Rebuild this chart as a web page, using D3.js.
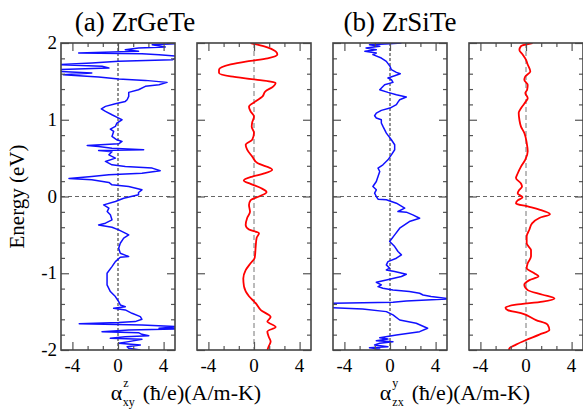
<!DOCTYPE html>
<html>
<head>
<meta charset="utf-8">
<script src="https://cdn.jsdelivr.net/npm/d3@7"></script>
<style>
body { margin: 0; background: #fff; }
svg { display: block; }
</style>
</head>
<body>
<svg width="583" height="410" font-family="Liberation Serif, DejaVu Serif, serif"></svg>
<script>
// Energy (eV), alpha pairs

var geteBlue = [[2.0,5.3],[1.991,5.0],[1.978,3.0],[1.948,4.15],[1.935,1.8],[1.913,0.64],[1.891,1.8],[1.87,-3.45],[1.861,2.1],[1.848,3.6],[1.826,5.3],[1.783,4.8],[1.761,0.06],[1.739,-2.3],[1.717,-5.3],[1.696,-1.4],[1.674,-0.8],[1.652,-5.3],[1.630,-5.3],[1.609,-2.3],[1.587,-4.8],[1.557,-1.7],[1.530,0.06],[1.513,2.4],[1.487,4.3],[1.457,3.6],[1.435,2.4],[1.391,1.8],[1.357,0.94],[1.304,0.94],[1.261,0.8],[1.239,0.64],[1.209,-0.23],[1.174,-1.1],[1.143,-1.46],[1.109,-1.1],[1.065,-0.53],[1.022,0.06],[1.0,0.35],[0.957,-0.1],[0.913,-0.23],[0.878,-0.67],[0.848,-0.38],[0.783,-0.53],[0.739,-0.1],[0.717,0.35],[0.687,0.06],[0.665,-2.7],[0.652,-1.7],[0.630,-0.53],[0.609,2.25],[0.6,-1.7],[0.583,-0.53],[0.543,-0.8],[0.5,-0.23],[0.457,-1.1],[0.413,-0.53],[0.391,0.64],[0.370,3.0],[0.335,3.7],[0.304,2.1],[0.283,-0.8],[0.261,-2.3],[0.235,-4.3],[0.217,-2.3],[0.183,-0.8],[0.152,-0.53],[0.130,0.94],[0.087,2.1],[0.052,1.8],[0.022,1.8],[-0.022,0.5],[-0.065,-0.23],[-0.109,-1.26],[-0.152,-0.8],[-0.196,-0.95],[-0.239,-0.67],[-0.304,-0.53],[-0.348,-1.1],[-0.37,-1.7],[-0.4,-0.53],[-0.435,0.06],[-0.478,0.64],[-0.5,0.94],[-0.543,0.5],[-0.609,0.2],[-0.674,0.06],[-0.739,0.2],[-0.783,0.94],[-0.791,0.2],[-0.848,-0.23],[-0.913,-0.53],[-1.0,-0.96],[-1.087,-0.96],[-1.152,-0.96],[-1.239,-0.67],[-1.304,-0.23],[-1.37,0.06],[-1.413,0.2],[-1.435,0.64],[-1.457,-0.38],[-1.478,0.64],[-1.522,1.23],[-1.565,1.96],[-1.6,2.1],[-1.63,1.5],[-1.643,0.06],[-1.657,-3.4],[-1.674,2.1],[-1.696,5.3],[-1.717,3.6],[-1.726,5.3],[-1.739,0.94],[-1.761,-1.4],[-1.774,1.8],[-1.796,2.1],[-1.813,2.7],[-1.826,0.64],[-1.848,-0.67],[-1.861,2.1],[-1.891,0.94],[-1.913,0.06],[-1.935,1.96],[-1.957,0.8],[-1.978,0.94],[-2.0,1.96]]

var geteRed = [[2.0,-0.3],[1.957,0.9],[1.89,1.9],[1.85,2.05],[1.80,1.2],[1.76,-0.6],[1.72,-2.05],[1.65,-3.07],[1.61,-3.07],[1.565,-2.05],[1.52,0.3],[1.48,1.9],[1.435,1.7],[1.37,1.0],[1.30,0.73],[1.24,0.15],[1.17,-0.44],[1.11,-0.3],[1.04,0],[0.97,-0.15],[0.91,-0.2],[0.83,0],[0.74,-0.15],[0.674,-0.73],[0.61,-0.6],[0.52,-0.15],[0.435,0.3],[0.35,1.6],[0.30,0.9],[0.26,-0.15],[0.21,-0.9],[0.165,-0.3],[0.11,0.6],[0.057,1.1],[0.0,0.44],[-0.05,-0.3],[-0.11,-0.44],[-0.2,-0.35],[-0.28,-0.6],[-0.37,-0.73],[-0.43,-0.44],[-0.48,0.44],[-0.54,0.23],[-0.65,0.15],[-0.80,0.06],[-0.87,-0.3],[-0.96,-0.73],[-1.07,-0.94],[-1.17,-0.88],[-1.30,-0.44],[-1.39,0.15],[-1.48,0.6],[-1.57,1.46],[-1.63,1.17],[-1.70,1.9],[-1.76,1.17],[-1.83,1.3],[-1.89,1.46],[-1.95,1.3],[-2.0,1.17]]

var sidBlue = [[2.0,1.0],[1.991,0],[1.978,-1.8],[1.957,-0.9],[1.935,-2.1],[1.913,-1.2],[1.891,-2.2],[1.870,-1.2],[1.848,-1.5],[1.804,-0.76],[1.761,-0.32],[1.696,0],[1.652,0.12],[1.617,0.56],[1.6,0.9],[1.574,0.41],[1.543,-0.18],[1.522,0.12],[1.487,0.26],[1.457,-0.47],[1.391,-0.9],[1.357,-0.18],[1.326,0.56],[1.296,1.43],[1.261,0.85],[1.230,0.7],[1.196,0.56],[1.152,0],[1.122,-0.76],[1.087,-1.2],[1.052,-1.35],[1.022,-1.2],[1.0,-0.76],[0.957,-0.76],[0.913,-0.62],[0.826,-0.32],[0.739,0.12],[0.674,0.41],[0.609,0.41],[0.543,0.12],[0.478,-0.18],[0.413,-0.62],[0.370,-1.05],[0.326,-0.9],[0.261,-1.05],[0.196,-1.2],[0.130,-1.5],[0.087,-1.2],[0.043,-1.35],[0.0,-1.2],[-0.035,-1.05],[-0.043,-0.32],[-0.087,0.56],[-0.152,1.29],[-0.196,0.7],[-0.204,1.43],[-0.239,2.0],[-0.283,2.6],[-0.326,1.7],[-0.413,0.85],[-0.5,0.41],[-0.587,-0.03],[-0.652,0.41],[-0.717,0.7],[-0.761,1.0],[-0.804,0.56],[-0.848,-0.18],[-0.891,-0.32],[-0.935,-0.03],[-0.957,-0.32],[-0.978,0.41],[-1.013,1.43],[-1.043,1.0],[-1.087,-0.32],[-1.117,-1.2],[-1.152,-0.76],[-1.174,-1.05],[-1.196,-0.62],[-1.217,0.26],[-1.239,1.7],[-1.261,2.6],[-1.283,2.9],[-1.304,3.6],[-1.335,5.3],[-1.361,1.43],[-1.378,0.26],[-1.391,-5.3],[-1.448,-5.3],[-1.465,-2.4],[-1.5,-0.32],[-1.543,0.26],[-1.609,0.85],[-1.652,2.3],[-1.717,3.3],[-1.761,2.6],[-1.804,0.56],[-1.839,-0.9],[-1.857,-0.18],[-1.878,-1.2],[-1.891,0.26],[-1.913,-0.9],[-1.935,-1.35],[-1.957,-0.18],[-1.970,-1.8],[-1.987,-0.9],[-2.0,-1.35]]

var sidRed = [[2.0,0.58],[1.96,-0.44],[1.91,-0.58],[1.85,-0.3],[1.78,0],[1.72,0.15],[1.63,0.38],[1.565,-0.06],[1.52,-0.15],[1.456,0.15],[1.39,0.1],[1.35,-0.06],[1.28,0.15],[1.24,0],[1.15,-0.44],[1.09,-0.64],[1.0,-0.58],[0.91,-0.44],[0.83,-0.15],[0.70,0.06],[0.59,0.15],[0.48,-0.06],[0.39,-0.44],[0.30,-0.73],[0.24,-0.88],[0.17,-0.44],[0.13,-0.35],[0.087,-0.58],[0.04,-0.73],[-0.01,-0.3],[-0.05,-0.73],[-0.09,-0.88],[-0.13,0.15],[-0.17,1.17],[-0.23,2.1],[-0.28,1.17],[-0.35,0.53],[-0.43,0.3],[-0.52,0.06],[-0.61,0.06],[-0.70,0.44],[-0.78,0.44],[-0.87,0.15],[-0.93,0.06],[-1.0,0.73],[-1.04,1.1],[-1.09,0.3],[-1.15,-0.15],[-1.22,0.15],[-1.28,1.46],[-1.33,2.5],[-1.37,1.46],[-1.41,-0.88],[-1.45,-1.8],[-1.48,-1.6],[-1.52,-0.44],[-1.61,0.88],[-1.67,1.9],[-1.74,2.05],[-1.80,1.17],[-1.87,0],[-1.93,-0.88],[-1.98,-1.46],[-2.0,-1.5]]

var xMajor = [-4, 0, 4]
var xMinor = [-2.667, -1.333, 1.333, 2.667]
var yMajor = [-2, -1, 0, 1, 2]
var yMinor = d3.range(-1.8, 2, 0.2).map(function(v) { return Math.round(v * 10) / 10 }).filter(function(v) { return v % 1 != 0 })

var titles = ['(a) ZrGeTe', '(b) ZrSiTe']
var xSup = ['z', 'y']
var xSub = ['xy', 'zx']

var svg = d3.select('svg')
var plotTop = 43, plotBottom = 350, pw = 114
var lefts = [61, 197, 333, 469]
var panels = [
	{ data: geteBlue, color: '#1010ff', width: 1.5, curve: d3.curveLinear, zero: '#222' },
	{ data: geteRed, color: '#ff0000', width: 1.8, curve: d3.curveMonotoneY, zero: '#777' },
	{ data: sidBlue, color: '#1010ff', width: 1.5, curve: d3.curveLinear, zero: '#222' },
	{ data: sidRed, color: '#ff0000', width: 1.8, curve: d3.curveMonotoneY, zero: '#777' }
]

var y = d3.scaleLinear().domain([-2, 2]).range([plotBottom, plotTop])
var frameColor = '#444'

panels.forEach(function(p, i) {
	var x = d3.scaleLinear().domain([-5, 5]).range([lefts[i], lefts[i] + pw])
	var g = svg.append('g')

	g.append('clipPath').attr('id', 'clip' + i)
		.append('rect')
		.attr('x', lefts[i]).attr('y', plotTop)
		.attr('width', pw).attr('height', plotBottom - plotTop)

	// zero lines
	g.append('line')
		.attr('x1', lefts[i]).attr('x2', lefts[i] + pw)
		.attr('y1', y(0)).attr('y2', y(0))
		.attr('stroke', '#666').attr('stroke-width', 1.2)
		.attr('stroke-dasharray', '4,3')
	g.append('line')
		.attr('x1', x(0)).attr('x2', x(0))
		.attr('y1', plotTop).attr('y2', plotBottom)
		.attr('stroke', p.zero).attr('stroke-width', 1)
		.attr('stroke-dasharray', i % 2 ? '5,3' : '3,2')

	var line = d3.line()
		.x(function(d) { return x(d[1]) })
		.y(function(d) { return y(d[0]) })
		.curve(p.curve)

	g.append('path')
		.datum(p.data)
		.attr('clip-path', 'url(#clip' + i + ')')
		.attr('d', line)
		.attr('fill', 'none')
		.attr('stroke', p.color)
		.attr('stroke-width', p.width)
		.attr('stroke-linejoin', 'round')

	// ticks, pointing inward on all four sides
	function axis(gen, values, size, tr) {
		var a = g.append('g').attr('transform', tr)
			.call(gen.tickValues(values).tickSize(-size).tickFormat(''))
		a.select('.domain').remove()
		a.selectAll('line').attr('stroke', '#555').attr('stroke-width', 1.2)
	}
	axis(d3.axisBottom(x), xMajor, 8, 'translate(0,' + plotBottom + ')')
	axis(d3.axisBottom(x), xMinor, 4, 'translate(0,' + plotBottom + ')')
	axis(d3.axisTop(x), xMajor, 8, 'translate(0,' + plotTop + ')')
	axis(d3.axisTop(x), xMinor, 4, 'translate(0,' + plotTop + ')')
	axis(d3.axisLeft(y), yMajor, 8, 'translate(' + lefts[i] + ',0)')
	axis(d3.axisLeft(y), yMinor, 4, 'translate(' + lefts[i] + ',0)')
	axis(d3.axisRight(y), yMajor, 8, 'translate(' + (lefts[i] + pw) + ',0)')
	axis(d3.axisRight(y), yMinor, 4, 'translate(' + (lefts[i] + pw) + ',0)')

	g.append('rect')
		.attr('x', lefts[i]).attr('y', plotTop)
		.attr('width', pw).attr('height', plotBottom - plotTop)
		.attr('fill', 'none').attr('stroke', frameColor).attr('stroke-width', 1.6)

	g.selectAll('.xl').data(xMajor).enter().append('text')
		.attr('x', function(d) { return x(d) })
		.attr('y', plotBottom + 22)
		.attr('text-anchor', 'middle')
		.attr('font-size', 19)
		.text(function(d) { return d < 0 ? '-' + Math.abs(d) : d })
})

svg.selectAll('.yl').data(yMajor).enter().append('text')
	.attr('x', 57)
	.attr('y', function(d) { return y(d) + 6 })
	.attr('text-anchor', 'end')
	.attr('font-size', 19)
	.text(function(d) { return d < 0 ? '-' + Math.abs(d) : d })

svg.append('text')
	.attr('transform', 'translate(24,' + y(0) + ') rotate(-90)')
	.attr('text-anchor', 'middle')
	.attr('font-size', 21)
	.text('Energy (eV)')

var titleX = [135, 400]
var labelX = [186, 455]
titles.forEach(function(t, k) {
	svg.append('text')
		.attr('x', titleX[k]).attr('y', 31)
		.attr('text-anchor', 'middle')
		.attr('font-size', 27)
		.text(t)

	var lab = svg.append('text')
		.attr('x', labelX[k]).attr('y', 400)
		.attr('text-anchor', 'middle')
		.attr('font-size', 22)
	lab.append('tspan').text('α')
	lab.append('tspan').attr('font-size', 12).attr('dy', -13).attr('dx', 1).text(xSup[k])
	lab.append('tspan').attr('font-size', 12).attr('dy', 19).attr('dx', -6).text(xSub[k])
	lab.append('tspan').attr('dy', -6).attr('dx', 8).text('(ħ/e)(A/m-K)')
})
</script>
</body>
</html>
